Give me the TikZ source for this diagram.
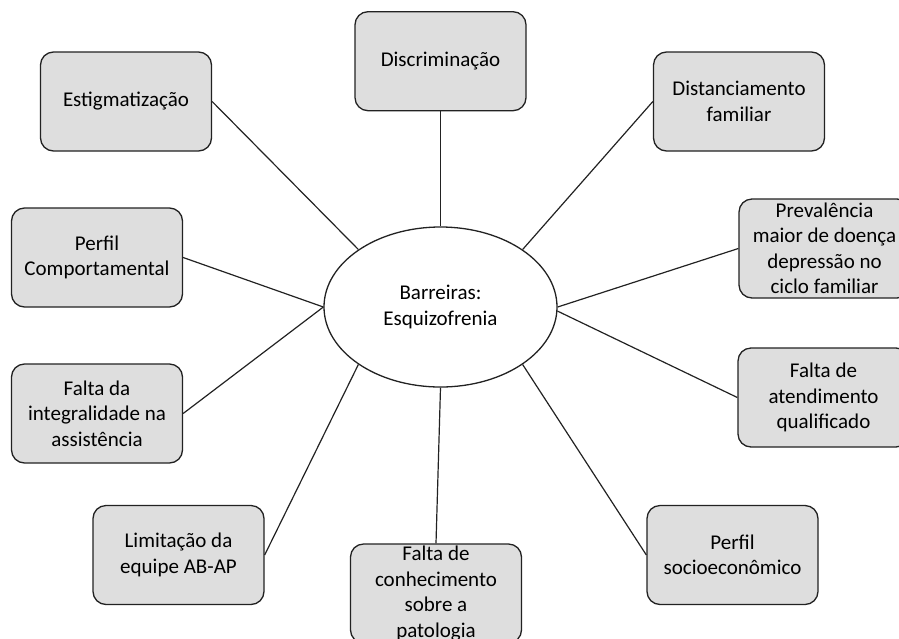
\documentclass[tikz,border=0pt]{standalone}
\usepackage{fontspec}
\setmainfont{Carlito}
\usetikzlibrary{positioning}
\usetikzlibrary{shapes.geometric}
\definecolor{boxgray}{RGB}{222,222,222}
\definecolor{linegray}{RGB}{34,34,34}

\begin{document}
\begin{tikzpicture}[x=1pt,y=-1pt,-,auto,
	main node/.style={ellipse,draw=linegray,fill=white,line width=1.3pt,minimum width=233pt,minimum height=160pt,inner sep=0pt,align=center,font=\fontsize{21}{25.5}\selectfont},
	cause node/.style={rectangle,rounded corners=13pt,draw=linegray,fill=boxgray,line width=1.3pt,minimum width=171pt,minimum height=99pt,inner sep=0pt,align=center,font=\fontsize{21}{25.5}\selectfont}]

	\useasboundingbox (0,0) rectangle (899,638);

	%the central barrier node
	\begin{scope}
		\node[main node] (bar) at (440.5,307) {Barreiras:\\Esquizofrenia};
	\end{scope}

	%the boxes around it, clockwise from the top
	\begin{scope}
		\node[cause node] (disc) [above=115pt of bar] {Discriminação};
		\node[cause node] (dist) at (739,101.5) {Distanciamento\\familiar};
		\node[cause node] (prev) at (824.5,248.5) {Prevalência\\maior de doença\\depressão no\\ciclo familiar};
		\node[cause node] (aten) at (823.5,397.5) {Falta de\\atendimento\\qualificado};
		\node[cause node] (socio) at (732.5,555) {Perfil\\socioeconômico};
		\node[cause node] (conh) at (436,593.5) {Falta de\\conhecimento\\sobre a\\patologia};
		\node[cause node] (limit) at (178.5,555) {Limitação da\\equipe AB-AP};
		\node[cause node] (integ) at (97,413.5) {Falta da\\integralidade na\\assistência};
		\node[cause node] (comp) at (97,257.5) {Perfil\\Comportamental};
		\node[cause node] (estig) at (126,101.5) {Estigmatização};
	\end{scope}

	%finally, the spokes from the ellipse to each box
	\path[every edge/.style={draw=linegray,line width=1.2pt}]
		(bar.90) edge (disc.south)
		(bar.35) edge (dist.west)
		(bar.0) edge (prev.west)
		(bar.-2) edge (aten.west)
		(bar.-35) edge (socio.west)
		(bar.-90) edge (conh.north)
		(bar.215) edge (limit.east)
		(bar.180) edge (integ.east)
		(bar.180) edge (comp.east)
		(bar.145) edge (estig.east);
\end{tikzpicture}
\end{document}
